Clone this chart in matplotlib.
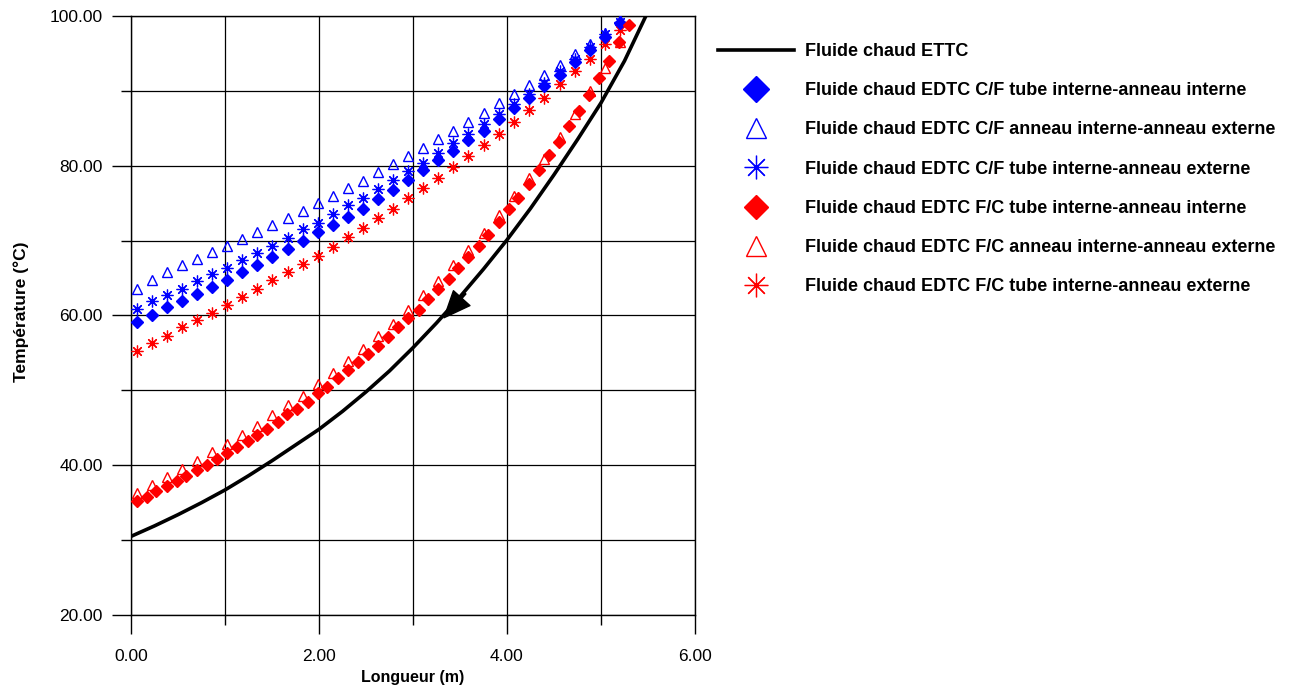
import matplotlib
matplotlib.use("Agg")
import matplotlib.pyplot as plt
from matplotlib.ticker import StrMethodFormatter

plt.rcParams["font.family"] = ["Liberation Sans", "DejaVu Sans"]

# Longueur (m) of the measured points
longueur = [0.06, 0.22, 0.38, 0.54, 0.70, 0.86, 1.02, 1.18, 1.34, 1.50, 1.67,
            1.83, 1.99, 2.15, 2.31, 2.47, 2.63, 2.79, 2.95, 3.11, 3.27, 3.43,
            3.59, 3.75, 3.91, 4.07, 4.23, 4.39, 4.56, 4.72, 4.88, 5.04, 5.20]
longueur_fc = [0.06, 0.17, 0.27, 0.38, 0.49, 0.59, 0.70, 0.81, 0.92, 1.02,
               1.13, 1.24, 1.34, 1.45, 1.56, 1.66, 1.77, 1.88, 1.99, 2.09,
               2.20, 2.31, 2.41, 2.52, 2.63, 2.73, 2.84, 2.95, 3.06, 3.16,
               3.27, 3.38, 3.48, 3.59, 3.70, 3.80, 3.91, 4.02, 4.12, 4.23,
               4.34, 4.45, 4.55, 4.66, 4.77, 4.87, 4.98, 5.09, 5.19, 5.30]

# Fluide chaud ETTC (continuous curve)
ettc_x = [0.00, 0.25, 0.50, 0.75, 1.00, 1.25, 1.50, 1.75, 2.00, 2.25, 2.50, 2.75,
          3.00, 3.25, 3.50, 3.75, 4.00, 4.25, 4.50, 4.75, 5.00, 5.25, 5.50]
ettc_y = [30.5, 31.9, 33.4, 35.0, 36.7, 38.6, 40.6, 42.7, 44.8, 47.2, 49.8, 52.6,
          55.7, 59.0, 62.5, 66.2, 70.1, 74.3, 78.8, 83.5, 88.4, 94.0, 100.6]

cf_tube_int = [59.1, 60.1, 61.1, 62.0, 62.9, 63.8, 64.8, 65.8, 66.8, 67.8, 68.9,
               69.9, 71.1, 72.1, 73.2, 74.2, 75.6, 76.8, 78.1, 79.4, 80.8, 82.0,
               83.5, 84.7, 86.2, 87.7, 89.0, 90.6, 92.1, 93.8, 95.5, 97.2, 99.1]
cf_anneau_ext = [63.6, 64.7, 65.8, 66.7, 67.6, 68.5, 69.3, 70.2, 71.1, 72.1, 73.0,
                 73.9, 75.0, 75.9, 77.0, 77.9, 79.1, 80.2, 81.3, 82.4, 83.6, 84.7,
                 85.9, 87.1, 88.4, 89.6, 90.8, 92.1, 93.4, 94.9, 96.3, 97.7, 99.5]
cf_tube_ext = [60.9, 61.9, 62.8, 63.6, 64.6, 65.5, 66.4, 67.4, 68.4, 69.3, 70.4,
               71.5, 72.4, 73.6, 74.7, 75.7, 76.9, 78.1, 79.3, 80.4, 81.7, 83.0,
               84.2, 85.6, 86.9, 88.2, 89.6, 91.1, 92.7, 94.2, 95.8, 97.6, 99.2]

fc_tube_int = [35.2, 35.8, 36.5, 37.2, 37.9, 38.6, 39.3, 40.1, 40.8, 41.6,
               42.4, 43.2, 44.1, 44.9, 45.8, 46.8, 47.5, 48.5, 49.6, 50.5,
               51.7, 52.7, 53.8, 54.8, 55.9, 57.1, 58.4, 59.6, 60.8, 62.2,
               63.6, 64.9, 66.4, 67.8, 69.3, 70.8, 72.5, 74.2, 75.7, 77.6,
               79.4, 81.4, 83.2, 85.3, 87.3, 89.5, 91.7, 94.0, 96.5, 98.8]
fc_anneau_ext = [36.3, 37.4, 38.4, 39.5, 40.6, 41.8, 42.8, 44.1, 45.3, 46.7, 48.0,
                 49.3, 50.9, 52.3, 53.9, 55.5, 57.2, 58.9, 60.7, 62.7, 64.6, 66.7,
                 68.8, 71.0, 73.4, 75.9, 78.3, 80.9, 83.8, 86.9, 90.0, 93.1, 96.5]
fc_tube_ext = [55.3, 56.3, 57.3, 58.4, 59.4, 60.4, 61.4, 62.5, 63.5, 64.7, 65.8,
               66.9, 68.0, 69.2, 70.5, 71.7, 73.0, 74.2, 75.7, 77.0, 78.4, 79.8,
               81.3, 82.8, 84.2, 85.9, 87.5, 89.1, 90.9, 92.7, 94.3, 96.3, 98.1]

W, H = 1297, 686
fig = plt.figure(figsize=(W / 100, H / 100), dpi=100)
ax = fig.add_axes([131 / W, 71 / H, 564 / W, 599 / H])

star = (8, 2, 0)
handles = []
handles += ax.plot(ettc_x, ettc_y, color="black", lw=2.6, zorder=6,
                   solid_joinstyle="round", label="Fluide chaud ETTC")
handles += ax.plot(longueur, cf_tube_int, ls="none", marker="D", ms=6.6,
                   color="blue", zorder=5,
                   label="Fluide chaud EDTC C/F tube interne-anneau interne")
handles += ax.plot(longueur, cf_anneau_ext, ls="none", marker="^", ms=7.5,
                   mfc="none", mec="blue", mew=1.0, zorder=3,
                   label="Fluide chaud EDTC C/F anneau interne-anneau externe")
handles += ax.plot(longueur, cf_tube_ext, ls="none", marker=star, ms=8.5,
                   mec="blue", mew=0.9, zorder=4,
                   label="Fluide chaud EDTC C/F tube interne-anneau externe")
handles += ax.plot(longueur_fc, fc_tube_int, ls="none", marker="D", ms=6.0,
                   color="red", zorder=5,
                   label="Fluide chaud EDTC F/C tube interne-anneau interne")
handles += ax.plot(longueur, fc_anneau_ext, ls="none", marker="^", ms=7.5,
                   mfc="none", mec="red", mew=1.0, zorder=3,
                   label="Fluide chaud EDTC F/C anneau interne-anneau externe")
handles += ax.plot(longueur, fc_tube_ext, ls="none", marker=star, ms=8.5,
                   mec="red", mew=0.9, zorder=4,
                   label="Fluide chaud EDTC F/C tube interne-anneau externe")

# direction arrow on the ETTC curve
ax.annotate("", xy=(3.33, 59.7), xytext=(3.56, 62.9),
            arrowprops=dict(facecolor="black", edgecolor="black", width=0.5,
                            headwidth=16, headlength=19, shrink=0),
            zorder=7)

# Axes
ax.set_xlim(0, 6)
ax.set_ylim(20, 100)
ax.set_xticks([0, 2, 4, 6])
ax.set_xticks([1, 3, 5], minor=True)
ax.set_yticks([20, 40, 60, 80, 100])
ax.set_yticks([30, 50, 70, 90], minor=True)
ax.xaxis.set_major_formatter(StrMethodFormatter("{x:.2f}"))
ax.yaxis.set_major_formatter(StrMethodFormatter("{x:.2f}"))
ax.tick_params(which="major", length=13.5, width=1, labelsize=12.5, color="black")
ax.tick_params(which="minor", length=7, width=1, color="black")
ax.tick_params(axis="x", which="major", pad=11)
ax.tick_params(axis="y", which="major", pad=7)
ax.grid(True, which="both", color="black", lw=0.9)
ax.set_axisbelow(True)
for s in ax.spines.values():
    s.set_linewidth(1)

ax.set_xlabel("Longueur (m)", fontsize=11.5, fontweight="bold")
ax.xaxis.set_label_coords(0.5, -0.092)
ax.set_ylabel("Température (°C)", fontsize=12.5, fontweight="bold")
ax.yaxis.set_label_coords(-0.181, 0.506)

fig.legend(handles=handles, loc="upper left",
           bbox_to_anchor=(718 / W, 1 - 43 / H), bbox_transform=fig.transFigure,
           frameon=False, prop={"weight": "bold", "size": 13},
           handlelength=4.2, handletextpad=0.6, labelspacing=1.23,
           borderpad=0, borderaxespad=0, numpoints=1, markerscale=2)

fig.savefig("out.png", dpi=100)
